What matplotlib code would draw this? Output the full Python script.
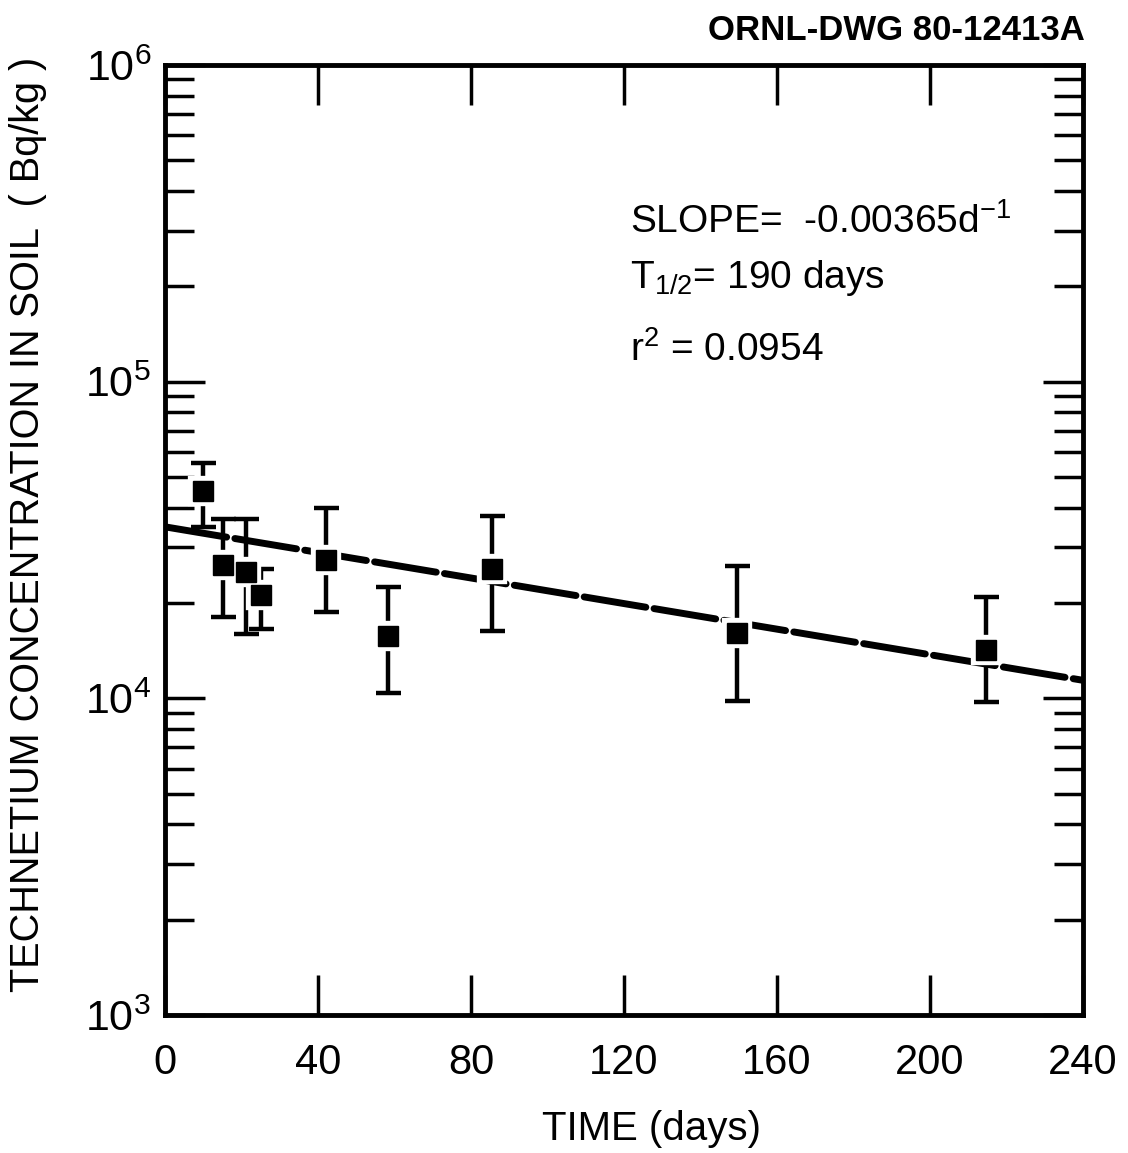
import matplotlib
matplotlib.use("Agg")
import matplotlib.pyplot as plt
import matplotlib.ticker as mticker
import numpy as np

# ---- data ----
days = [9.9, 15.1, 21.2, 25.0, 42.1, 58.3, 85.4, 149.5, 214.6]
conc = [45000, 26400, 25100, 21200, 27400, 15700, 25600, 16100, 14200]
err_hi = [55400, 36800, 36800, 25700, 40000, 22500, 37700, 26200, 20900]
err_lo = [34700, 18100, 16000, 16600, 18800, 10400, 16300, 9840, 9770]

fit_days = [0, 240]
fit_conc = [34800, 11400]

x_ticks = [0, 40, 80, 120, 160, 200, 240]
y_ticks = [1e3, 1e4, 1e5, 1e6]
y_tick_labels = ["10$^{3}$", "10$^{4}$", "10$^{5}$", "10$^{6}$"]

plt.rcParams['font.family'] = ['Liberation Sans', 'DejaVu Sans']
plt.rcParams['mathtext.default'] = 'regular'

fig = plt.figure(figsize=(11.28, 11.53), dpi=100)
ax = fig.add_axes([165/1128, 1 - 1015/1153, (1083-165)/1128, (1015-65)/1153])

ax.set_yscale('log')
ax.set_xlim(0, 240)
ax.set_ylim(1e3, 1e6)

# fit line (long dashes)
ax.plot(fit_days, fit_conc, color='black', lw=5, linestyle=(0, (9, 1.2)),
        solid_capstyle='round', dash_capstyle='round', zorder=2)

c = np.array(conc)
yerr = np.vstack([c - np.array(err_lo), np.array(err_hi) - c])
ax.errorbar(days, conc, yerr=yerr, fmt='none', ecolor='black', elinewidth=3.2,
            capsize=9, capthick=3.2, zorder=3)
ax.plot(days, conc, linestyle='none', marker='s', markersize=16,
        markerfacecolor='black', markeredgecolor='white', markeredgewidth=6, zorder=4)
ax.plot(days, conc, linestyle='none', marker='s', markersize=15,
        markerfacecolor='black', markeredgecolor='black', markeredgewidth=1, zorder=5)

for s in ax.spines.values():
    s.set_linewidth(3.5)

ax.set_xticks(x_ticks)
ax.xaxis.set_minor_locator(mticker.NullLocator())
ax.tick_params(axis='x', which='major', direction='in', top=True, bottom=True,
               length=29, width=2.5, labelsize=30, pad=20)
ax.set_yticks(y_ticks)
ax.set_yticklabels(y_tick_labels)
ax.yaxis.set_minor_locator(mticker.LogLocator(base=10, subs=np.arange(2, 10)))
ax.yaxis.set_minor_formatter(mticker.NullFormatter())
ax.tick_params(axis='y', which='major', direction='in', left=True, right=True,
               length=29, width=2.5, labelsize=31, pad=10)
ax.tick_params(axis='y', which='minor', direction='in', left=True, right=True,
               length=21, width=2.5)

ax.set_xlabel("TIME (days)", fontsize=29)
ax.xaxis.set_label_coords(0.53, -0.1)
ax.set_ylabel("TECHNETIUM CONCENTRATION IN SOIL  ( Bq/kg )", fontsize=28.5)
ax.yaxis.set_label_coords(-0.128, 0.516)

ax.text(0.506, 0.835, "SLOPE=  -0.00365d$^{-1}$", transform=ax.transAxes,
        fontsize=28, va='center', ha='left')
ax.text(0.506, 0.776, "T$_{1/2}$= 190 days", transform=ax.transAxes,
        fontsize=28, va='center', ha='left')
ax.text(0.506, 0.700, "r$^{2}$ = 0.0954", transform=ax.transAxes,
        fontsize=28, va='center', ha='left')

fig.text(1085/1128, 1 - 30/1153, "ORNL-DWG 80-12413A", fontsize=25,
         fontweight='bold', ha='right', va='center')

fig.savefig("out.png", dpi=100)
